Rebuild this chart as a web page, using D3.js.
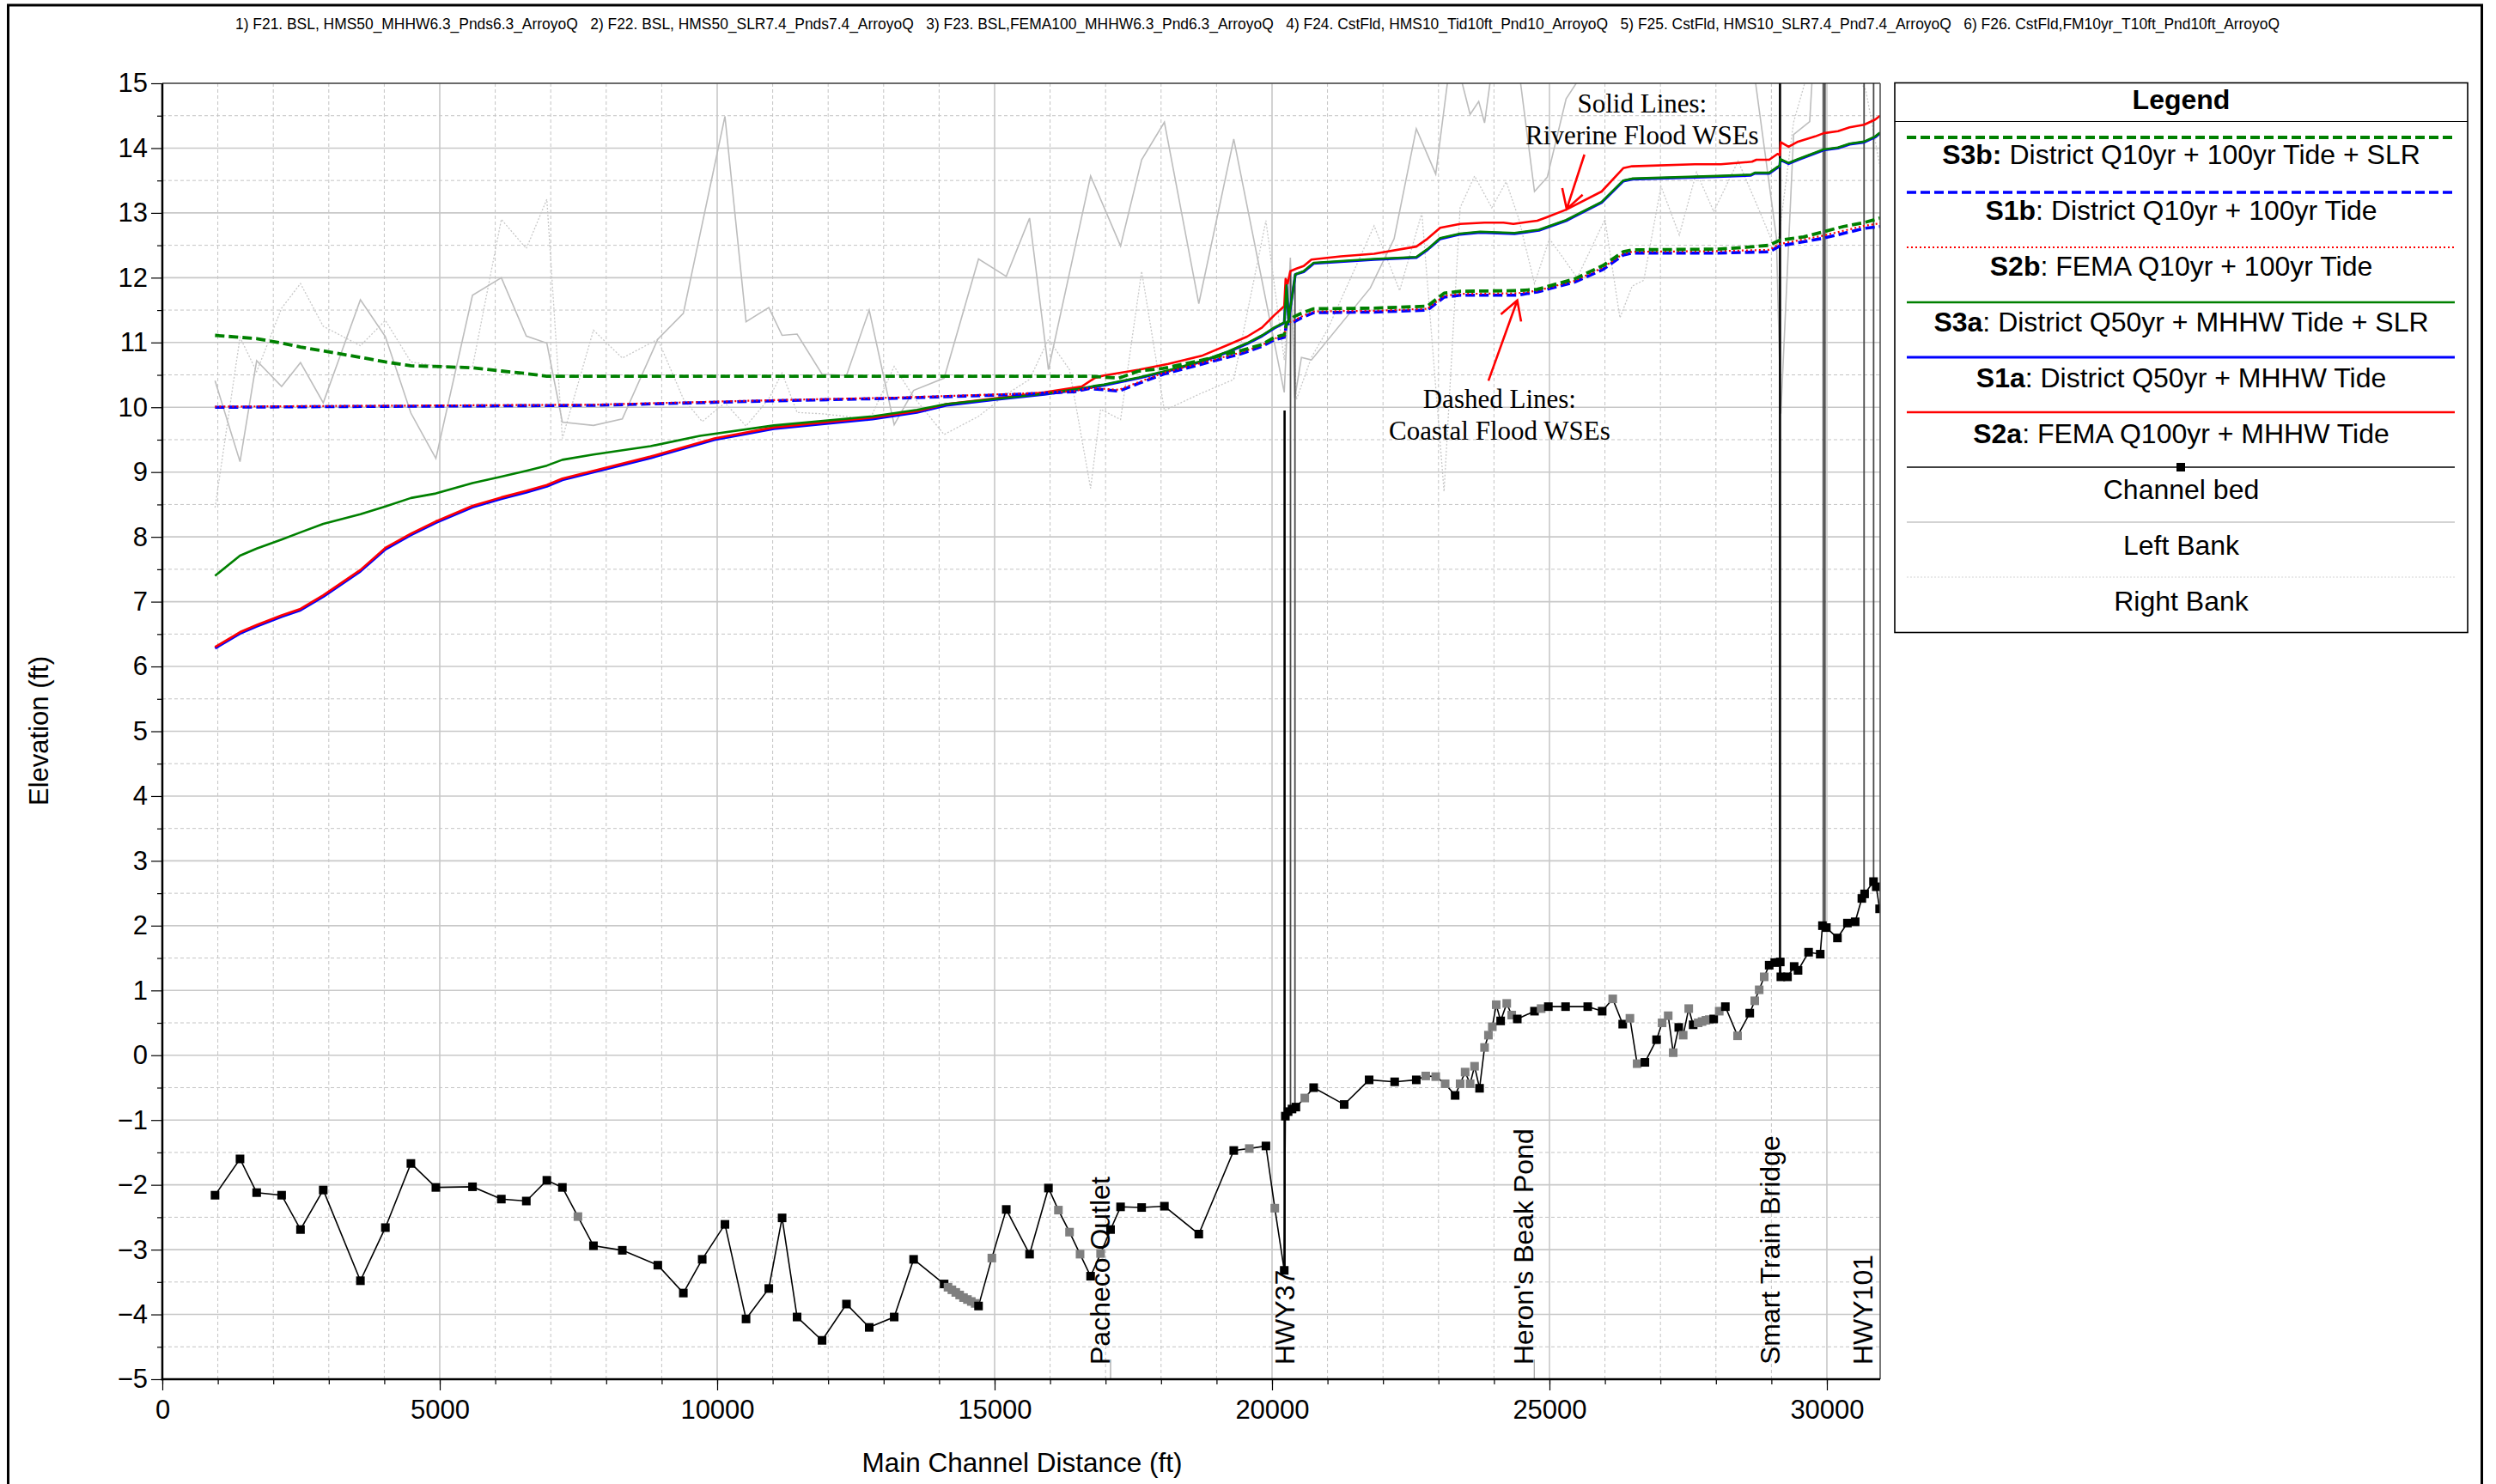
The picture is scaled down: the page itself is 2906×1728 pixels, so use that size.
<!DOCTYPE html>
<html>
<head>
<meta charset="utf-8">
<script src="https://cdn.jsdelivr.net/npm/d3@7"></script>
<style>
  html, body { margin: 0; padding: 0; background: #ffffff; }
  svg { display: block; }
</style>
</head>
<body>
<svg id="chart" width="2906" height="1728"></svg>
<script>
// ---------------- data ----------------
const planTitles = [
  "1) F21. BSL, HMS50_MHHW6.3_Pnds6.3_ArroyoQ",
  "2) F22. BSL, HMS50_SLR7.4_Pnds7.4_ArroyoQ",
  "3) F23. BSL,FEMA100_MHHW6.3_Pnd6.3_ArroyoQ",
  "4) F24. CstFld, HMS10_Tid10ft_Pnd10_ArroyoQ",
  "5) F25. CstFld, HMS10_SLR7.4_Pnd7.4_ArroyoQ",
  "6) F26. CstFld,FM10yr_T10ft_Pnd10ft_ArroyoQ"
];

const xMajorTicks = [0, 5000, 10000, 15000, 20000, 25000, 30000];
const xMinorTicks = d3.range(0, 31000, 1000);
const yMajorTicks = [-5, -4, -3, -2, -1, 0, 1, 2, 3, 4, 5, 6, 7, 8, 9, 10, 11, 12, 13, 14, 15];
const yMinorTicks = [-4.5, -3.5, -2.5, -1.5, -0.5, 0.5, 1.5, 2.5, 3.5, 4.5, 5.5, 6.5, 7.5, 8.5, 9.5, 10.5, 11.5, 12.5, 13.5, 14.5];

// water surface profiles: [main channel station (ft), elevation (ft)]
const s3b = [[950,11.11],[1400,11.08],[1700,11.06],[2150,10.99],[2490,10.93],[2900,10.87],[3570,10.77],[4020,10.70],[4480,10.64],[4930,10.63],[5590,10.61],[6110,10.56],[6560,10.52],[6930,10.48],[7770,10.48],[12000,10.48],[16700,10.48],[17240,10.45],[17600,10.56],[18040,10.60],[18750,10.73],[19460,10.88],[19820,10.97],[20040,11.08],[20220,11.12],[20260,11.30],[20400,11.40],[20530,11.45],[20750,11.52],[21840,11.53],[22800,11.56],[23100,11.76],[23390,11.79],[24420,11.80],[24780,11.82],[25450,11.98],[25970,12.19],[26330,12.40],[26490,12.43],[28030,12.44],[28550,12.47],[28960,12.50],[29150,12.58],[29580,12.63],[29940,12.71],[30300,12.79],[30670,12.85],[30960,12.92]];
const s1b = [[950,10.00],[3000,10.01],[7770,10.03],[11020,10.10],[13240,10.14],[15460,10.20],[16440,10.24],[16700,10.29],[17240,10.25],[17600,10.37],[18040,10.51],[18750,10.67],[19460,10.83],[19820,10.94],[20040,11.04],[20220,11.08],[20260,11.28],[20400,11.32],[20530,11.38],[20750,11.46],[21840,11.47],[22800,11.50],[23100,11.70],[23390,11.73],[24420,11.73],[24780,11.78],[25450,11.93],[25970,12.13],[26330,12.35],[26490,12.38],[28030,12.38],[28960,12.40],[29150,12.49],[29940,12.61],[30670,12.76],[30960,12.79]];
const s2b = [[950,10.01],[3000,10.02],[7770,10.04],[11020,10.11],[13240,10.15],[15460,10.21],[16440,10.25],[16700,10.30],[17240,10.27],[17600,10.39],[18040,10.53],[18750,10.69],[19460,10.85],[19820,10.96],[20040,11.06],[20220,11.10],[20260,11.30],[20400,11.34],[20530,11.40],[20750,11.48],[21840,11.49],[22800,11.52],[23100,11.72],[23390,11.75],[24420,11.76],[24780,11.80],[25450,11.95],[25970,12.16],[26330,12.37],[26490,12.40],[28030,12.41],[28960,12.43],[29150,12.52],[29940,12.65],[30670,12.80],[30960,12.84]];
const s3a = [[950,7.40],[1400,7.71],[1700,7.82],[2150,7.96],[2490,8.07],[2900,8.20],[3570,8.35],[4020,8.47],[4480,8.60],[4930,8.67],[5590,8.83],[6110,8.93],[6560,9.02],[6930,9.10],[7210,9.19],[7770,9.27],[8800,9.40],[9690,9.56],[11020,9.72],[12800,9.86],[13600,9.96],[14130,10.05],[15020,10.13],[15900,10.21],[16570,10.29],[16800,10.33],[16970,10.35],[17600,10.46],[18130,10.57],[18750,10.72],[19200,10.86],[19550,10.99],[19820,11.11],[20040,11.23],[20220,11.31],[20260,11.88],[20300,11.36],[20420,12.05],[20570,12.10],[20750,12.23],[21840,12.29],[22600,12.32],[22800,12.44],[23030,12.61],[23390,12.68],[23750,12.71],[24370,12.69],[24810,12.74],[25300,12.89],[25940,13.17],[26330,13.50],[26490,13.53],[28030,13.57],[28630,13.59],[28700,13.62],[28960,13.62],[29110,13.71],[29150,13.73],[29160,13.83],[29310,13.77],[29480,13.83],[29940,13.98],[30200,14.01],[30410,14.07],[30670,14.10],[30870,14.18],[30960,14.24]];
const s1a = [[950,6.28],[1400,6.51],[1700,6.62],[2150,6.77],[2490,6.87],[2900,7.08],[3570,7.47],[4020,7.81],[4480,8.03],[4930,8.22],[5590,8.46],[6110,8.59],[6560,8.69],[6930,8.78],[7210,8.88],[7770,9.00],[8800,9.22],[9950,9.50],[11020,9.67],[12800,9.82],[13600,9.92],[14130,10.03],[15020,10.12],[15900,10.20],[16570,10.28],[16800,10.32],[16970,10.34],[17600,10.45],[18130,10.56],[18750,10.71],[19200,10.85],[19550,10.98],[19820,11.10],[20040,11.22],[20220,11.30],[20260,11.90],[20300,11.35],[20420,12.05],[20570,12.09],[20750,12.22],[21840,12.28],[22600,12.31],[22800,12.43],[23030,12.60],[23390,12.67],[23750,12.70],[24370,12.68],[24810,12.73],[25300,12.88],[25940,13.16],[26330,13.49],[26490,13.52],[28030,13.56],[28630,13.58],[28700,13.61],[28960,13.61],[29110,13.70],[29150,13.72],[29160,13.82],[29310,13.76],[29480,13.82],[29940,13.97],[30200,14.00],[30410,14.06],[30670,14.09],[30870,14.17],[30960,14.23]];
const s2a = [[950,6.30],[1400,6.53],[1700,6.64],[2150,6.79],[2490,6.89],[2900,7.10],[3570,7.49],[4020,7.83],[4480,8.05],[4930,8.24],[5590,8.48],[6110,8.61],[6560,8.71],[6930,8.80],[7210,8.90],[7770,9.02],[8800,9.24],[9950,9.52],[11020,9.69],[12800,9.84],[13600,9.94],[14130,10.05],[15020,10.14],[15900,10.23],[16570,10.32],[16800,10.45],[16970,10.49],[17600,10.58],[18130,10.67],[18750,10.80],[19200,10.96],[19550,11.09],[19820,11.23],[20040,11.42],[20220,11.56],[20245,11.98],[20280,11.91],[20330,12.10],[20440,12.14],[20570,12.18],[20710,12.28],[21240,12.33],[21840,12.37],[22600,12.48],[22800,12.60],[23030,12.77],[23390,12.83],[23830,12.85],[24170,12.85],[24350,12.83],[24780,12.88],[24940,12.93],[25300,13.05],[25940,13.33],[26330,13.69],[26490,13.72],[27620,13.75],[28090,13.75],[28650,13.79],[28730,13.82],[28960,13.82],[29110,13.91],[29150,13.89],[29170,14.09],[29310,14.02],[29480,14.10],[29790,14.18],[29940,14.23],[30200,14.26],[30410,14.32],[30670,14.36],[30870,14.44],[30960,14.50]];

// channel bed: [station, elevation, interpolated section (1) or surveyed (0)]
const channelBed = [[950,-2.16,0],[1400,-1.60,0],[1700,-2.12,0],[2150,-2.16,0],[2490,-2.69,0],[2900,-2.08,0],[3570,-3.48,0],[4020,-2.66,0],[4480,-1.67,0],[4930,-2.04,0],[5590,-2.03,0],[6110,-2.22,0],[6560,-2.25,0],[6930,-1.93,0],[7210,-2.04,0],[7490,-2.49,1],[7770,-2.94,0],[8290,-3.01,0],[8930,-3.24,0],[9390,-3.67,0],[9730,-3.15,0],[10140,-2.61,0],[10520,-4.07,0],[10930,-3.60,0],[11170,-2.51,0],[11440,-4.04,0],[11890,-4.40,0],[12330,-3.84,0],[12740,-4.20,0],[13190,-4.04,0],[13540,-3.15,0],[14090,-3.53,0],[14160,-3.58,1],[14230,-3.62,1],[14300,-3.66,1],[14370,-3.70,1],[14440,-3.74,1],[14510,-3.77,1],[14580,-3.80,1],[14650,-3.83,1],[14710,-3.87,0],[14950,-3.13,1],[15210,-2.38,0],[15630,-3.07,0],[15970,-2.05,0],[16150,-2.39,1],[16350,-2.73,1],[16540,-3.07,1],[16730,-3.41,0],[16910,-3.06,1],[17090,-2.69,0],[17270,-2.34,0],[17650,-2.35,0],[18060,-2.33,0],[18680,-2.76,0],[19310,-1.47,0],[19590,-1.44,1],[19890,-1.40,0],[20050,-2.36,1],[20220,-3.32,0],[20240,-0.94,0],[20290,-0.87,0],[20360,-0.83,0],[20430,-0.80,0],[20590,-0.66,1],[20750,-0.50,0],[21300,-0.76,0],[21750,-0.38,0],[22210,-0.41,0],[22600,-0.38,0],[22770,-0.32,1],[22950,-0.33,1],[23120,-0.44,1],[23300,-0.62,0],[23390,-0.44,1],[23480,-0.26,1],[23570,-0.44,1],[23650,-0.17,1],[23740,-0.51,0],[23830,0.12,1],[23900,0.31,1],[23970,0.44,1],[24040,0.78,1],[24120,0.53,0],[24230,0.80,1],[24320,0.62,1],[24420,0.56,0],[24730,0.68,0],[24850,0.72,1],[24980,0.75,0],[25290,0.75,0],[25690,0.75,0],[25950,0.68,0],[26140,0.87,1],[26320,0.48,0],[26450,0.57,1],[26580,-0.13,1],[26720,-0.11,0],[26930,0.24,0],[27030,0.50,1],[27140,0.61,1],[27230,0.04,1],[27330,0.43,0],[27410,0.31,1],[27510,0.72,1],[27590,0.47,0],[27680,0.50,1],[27750,0.52,1],[27820,0.54,1],[27880,0.55,1],[27960,0.56,0],[28060,0.68,1],[28170,0.75,0],[28390,0.30,1],[28610,0.65,0],[28700,0.84,1],[28780,1.01,1],[28870,1.21,1],[28960,1.39,0],[29060,1.43,0],[29160,1.44,0],[29170,1.21,0],[29290,1.21,0],[29410,1.37,0],[29480,1.31,0],[29670,1.59,0],[29880,1.56,0],[29920,2.00,0],[29990,1.97,0],[30190,1.81,0],[30370,2.04,0],[30510,2.06,0],[30630,2.42,0],[30680,2.49,0],[30840,2.68,0],[30890,2.60,0],[30950,2.26,0]];

// bank stations
const leftBank = [[950,10.41],[1400,9.16],[1700,10.72],[2150,10.32],[2490,10.69],[2900,10.07],[3570,11.66],[4020,11.09],[4480,9.91],[4930,9.21],[5590,11.73],[6110,12.00],[6560,11.10],[6930,10.99],[7210,9.77],[7770,9.72],[8290,9.82],[8930,11.05],[9390,11.45],[10140,14.49],[10520,11.32],[10930,11.54],[11170,11.11],[11440,11.13],[11890,10.51],[12330,10.49],[12740,11.50],[13190,9.73],[13540,10.26],[14090,10.45],[14710,12.29],[15210,12.02],[15630,12.92],[15970,10.58],[16730,13.57],[17270,12.49],[17650,13.82],[18060,14.40],[18680,11.60],[19310,14.14],[20220,10.23],[20330,12.31],[20410,10.14],[20530,10.77],[20710,10.73],[21770,11.84],[22200,12.6],[22600,14.3],[22950,13.6],[23250,15.6],[23570,14.52],[23725,14.72],[23830,14.39],[23960,15.2],[24450,15.2],[24730,13.33],[24960,13.55],[25300,14.76],[25710,15.3],[26500,15.8],[27500,15.6],[28700,15.1],[29090,12.62],[29170,9.9],[29400,14.21],[29690,14.41],[29750,15.3],[30300,15.6],[30960,15.4]];
const rightBank = [[950,8.45],[1400,11.08],[1700,10.55],[2150,11.53],[2490,11.91],[2900,11.25],[3570,10.95],[4020,11.34],[4480,10.70],[4930,10.64],[5590,10.62],[6110,12.90],[6560,12.45],[6930,13.21],[7210,9.52],[7770,11.19],[8290,10.76],[8930,11.05],[9390,10.13],[9730,9.78],[10140,10.07],[10520,9.71],[10930,10.13],[11170,10.53],[11440,9.92],[11890,9.90],[12330,9.86],[12740,9.79],[13190,10.63],[13540,10.16],[14090,9.58],[14710,9.86],[15210,10.20],[15630,10.43],[15970,11.05],[16350,10.58],[16730,8.75],[16910,9.97],[17270,9.81],[17650,12.10],[18060,9.95],[18680,10.20],[19310,10.43],[19890,12.88],[20220,10.73],[20330,12.25],[20440,10.12],[20710,10.77],[21000,11.2],[21840,12.8],[22300,11.8],[22700,13.0],[23100,8.7],[23390,13.08],[23650,13.57],[23960,13.08],[24220,13.48],[24450,12.9],[24730,11.91],[25000,12.6],[25500,12.0],[26000,12.9],[26270,11.38],[26490,11.87],[26700,11.96],[27010,13.41],[27340,12.66],[27650,13.63],[27960,13.02],[28400,13.8],[28800,13.0],[29090,12.4],[29160,12.8],[29400,14.4],[29700,15.3],[30200,15.5],[30700,14.9],[30960,13.7]];

// bridges / culverts drawn as vertical lines: station, bottom elev, top elev
const structStation = [20226, 20333, 20413, 29155, 29935, 29965, 30670, 30842];
const structBottom  = [-3.32, -0.87, -0.80, 1.21, 2.00, 1.97, 2.45, 2.68];
const structTop     = [9.95, 12.10, 12.05, 15, 15, 15, 15, 15];
const structMain    = [1, 0, 0, 1, 0, 0, 0, 0];

// named locations along the channel
const siteNames = ["Pacheco Outlet", "HWY37", "Heron's Beak Pond", "Smart Train Bridge", "HWY101"];
const siteStations = [17090, 20413, 24726, 29170, 30842];
const siteTickStations = [17090, 24726];

const legendKeys  = ["S3b:", "S1b", "S2b", "S3a", "S1a", "S2a", "", "", ""];
const legendTexts = [" District Q10yr + 100yr Tide + SLR", ": District Q10yr + 100yr Tide", ": FEMA Q10yr + 100yr Tide",
                     ": District Q50yr + MHHW Tide + SLR", ": District Q50yr + MHHW Tide", ": FEMA Q100yr + MHHW Tide",
                     "Channel bed", "Left Bank", "Right Bank"];

// ---------------- drawing ----------------
const FONT = "'Liberation Sans', Arial, Helvetica, sans-serif";
const SERIF = "'Liberation Serif', 'Times New Roman', serif";
const svg = d3.select("#chart");

const x = d3.scaleLinear().domain([0, 30960]).range([189, 2189]);
const y = d3.scaleLinear().domain([-5, 15]).range([1606, 97]);
const [X0, X1] = x.range();
const [Y0, Y1] = y.range();

svg.append("rect").attr("width", 2906).attr("height", 1728).attr("fill", "#fff");

// outer frame
svg.append("rect").attr("x", 9.5).attr("y", 6).attr("width", 2880).attr("height", 1760)
  .attr("fill", "none").attr("stroke", "#000").attr("stroke-width", 3);

// plan list across the top
svg.append("text")
  .attr("x", 274).attr("y", 34)
  .attr("font-family", FONT).attr("font-size", 18)
  .attr("textLength", 2380).attr("lengthAdjust", "spacingAndGlyphs")
  .style("white-space", "pre")
  .text(planTitles.join("\u00a0\u00a0\u00a0"));

// grid
const grid = svg.append("g");
grid.selectAll(".gyMinor").data(yMinorTicks).join("line")
  .attr("x1", X0).attr("x2", X1).attr("y1", d => y(d)).attr("y2", d => y(d))
  .attr("stroke", "#c4c4c4").attr("stroke-width", 1).attr("stroke-dasharray", "4,3");
grid.selectAll(".gxMinor").data(xMinorTicks.filter(v => v % 5000 !== 0 && v > 0)).join("line")
  .attr("x1", d => x(d)).attr("x2", d => x(d)).attr("y1", Y0).attr("y2", Y1)
  .attr("stroke", "#c4c4c4").attr("stroke-width", 1).attr("stroke-dasharray", "4,3");
grid.selectAll(".gyMajor").data(yMajorTicks).join("line")
  .attr("x1", X0).attr("x2", X1).attr("y1", d => y(d)).attr("y2", d => y(d))
  .attr("stroke", "#c8c8c8").attr("stroke-width", 1.6);
grid.selectAll(".gxMajor").data(xMajorTicks.filter(v => v > 0)).join("line")
  .attr("x1", d => x(d)).attr("x2", d => x(d)).attr("y1", Y0).attr("y2", Y1)
  .attr("stroke", "#c8c8c8").attr("stroke-width", 1.6);

svg.append("clipPath").attr("id", "plotClip")
  .append("rect").attr("x", X0).attr("y", Y1).attr("width", X1 - X0).attr("height", Y0 - Y1);

const plot = svg.append("g").attr("clip-path", "url(#plotClip)");
const line = d3.line().x(d => x(d[0])).y(d => y(d[1]));

// banks
plot.append("path").datum(rightBank).attr("d", line)
  .attr("fill", "none").attr("stroke", "#c8c8c8").attr("stroke-width", 1.3).attr("stroke-dasharray", "2,2");
plot.append("path").datum(leftBank).attr("d", line)
  .attr("fill", "none").attr("stroke", "#bdbdbd").attr("stroke-width", 1.6);

// location ticks along the bottom
plot.selectAll(".siteTick").data(siteTickStations).join("line")
  .attr("x1", d => x(d)).attr("x2", d => x(d)).attr("y1", Y0).attr("y2", Y0 - 23)
  .attr("stroke", "#a0a0a0").attr("stroke-width", 1.2);

// structures
plot.selectAll(".struct").data(structStation).join("line")
  .attr("x1", d => x(d)).attr("x2", d => x(d))
  .attr("y1", (d, i) => y(structBottom[i])).attr("y2", (d, i) => y(structTop[i]))
  .attr("stroke", (d, i) => structMain[i] ? "#000" : "#4a4a4a")
  .attr("stroke-width", (d, i) => structMain[i] ? 2.6 : 1.8);

// channel bed
plot.append("path").datum(channelBed).attr("d", line)
  .attr("fill", "none").attr("stroke", "#000").attr("stroke-width", 1.6);
plot.selectAll(".bedPt").data(channelBed).join("rect")
  .attr("x", d => x(d[0]) - 5).attr("y", d => y(d[1]) - 5)
  .attr("width", 10).attr("height", 10)
  .attr("fill", d => d[2] ? "#7f7f7f" : "#000");

// water surface profiles
const styles = {
  s1a: { stroke: "#0000ff", width: 3.2, dash: null },
  s2a: { stroke: "#ff0000", width: 2.6, dash: null },
  s3a: { stroke: "#008000", width: 2.6, dash: null },
  s1b: { stroke: "#0000ff", width: 3.6, dash: "11,5" },
  s2b: { stroke: "#ff0000", width: 2.2, dash: "2,3" },
  s3b: { stroke: "#008000", width: 3.8, dash: "11,5" }
};
const drawOrder = [["s1a", s1a], ["s2a", s2a], ["s3a", s3a], ["s1b", s1b], ["s2b", s2b], ["s3b", s3b]];
drawOrder.forEach(([k, data]) => {
  const st = styles[k];
  plot.append("path").datum(data).attr("d", line)
    .attr("fill", "none").attr("stroke", st.stroke).attr("stroke-width", st.width)
    .attr("stroke-linejoin", "round")
    .attr("stroke-dasharray", st.dash);
});

// annotations
function arrow(g, tail, tip) {
  const tx = x(tip[0]), ty = y(tip[1]);
  const sx = x(tail[0]), sy = y(tail[1]);
  const ang = Math.atan2(sy - ty, sx - tx);
  const L = 25, a = Math.PI / 6;
  g.append("path")
    .attr("d", `M${sx},${sy}L${tx},${ty}M${tx + L * Math.cos(ang - a)},${ty + L * Math.sin(ang - a)}L${tx},${ty}L${tx + L * Math.cos(ang + a)},${ty + L * Math.sin(ang + a)}`)
    .attr("fill", "none").attr("stroke", "#ff0000").attr("stroke-width", 2.6);
}
const ann = svg.append("g");
arrow(ann, [25630, 13.90], [25310, 13.06]);
arrow(ann, [23900, 10.41], [24420, 11.65]);
ann.append("text").attr("x", x(26670)).attr("y", y(14.55)).attr("text-anchor", "middle")
  .attr("font-family", SERIF).attr("font-size", 31).text("Solid Lines:");
ann.append("text").attr("x", x(26670)).attr("y", y(14.06)).attr("text-anchor", "middle")
  .attr("font-family", SERIF).attr("font-size", 31).text("Riverine Flood WSEs");
ann.append("text").attr("x", x(24100)).attr("y", y(9.99)).attr("text-anchor", "middle")
  .attr("font-family", SERIF).attr("font-size", 31).text("Dashed Lines:");
ann.append("text").attr("x", x(24100)).attr("y", y(9.50)).attr("text-anchor", "middle")
  .attr("font-family", SERIF).attr("font-size", 31).text("Coastal Flood WSEs");

// location names
svg.selectAll(".site").data(siteNames).join("text")
  .attr("transform", (d, i) => `translate(${x(siteStations[i]) - 1},${Y0 - 17}) rotate(-90)`)
  .attr("font-family", FONT).attr("font-size", 32).attr("fill", "#000")
  .text(d => d);

// plot frame
svg.append("line").attr("x1", X0).attr("x2", X1).attr("y1", Y1).attr("y2", Y1)
  .attr("stroke", "#000").attr("stroke-width", 1.2);
svg.append("line").attr("x1", X1).attr("x2", X1).attr("y1", Y1).attr("y2", Y0)
  .attr("stroke", "#555").attr("stroke-width", 1.6);

// axes
svg.append("g").attr("transform", `translate(${X0},0)`)
  .call(d3.axisLeft(y).tickValues(yMajorTicks).tickSize(13).tickPadding(4).tickFormat(d3.format("d")));
svg.append("g").attr("transform", `translate(${X0},0)`)
  .call(d3.axisLeft(y).tickValues(yMinorTicks).tickSize(6).tickFormat(""));
svg.append("g").attr("transform", `translate(0,${Y0})`)
  .call(d3.axisBottom(x).tickValues(xMajorTicks).tickSize(13).tickPadding(11).tickFormat(d3.format("d")));
svg.append("g").attr("transform", `translate(0,${Y0})`)
  .call(d3.axisBottom(x).tickValues(xMinorTicks).tickSize(6).tickFormat(""));
svg.selectAll(".domain").remove();
svg.selectAll(".tick line").attr("stroke", "#000").attr("stroke-width", 1.2);
svg.selectAll(".tick text").attr("font-family", FONT).attr("font-size", 31).attr("fill", "#000");

svg.append("line").attr("x1", X0).attr("x2", X0).attr("y1", Y1).attr("y2", Y0 + 1.25)
  .attr("stroke", "#000").attr("stroke-width", 2.5);
svg.append("line").attr("x1", X0 - 1.25).attr("x2", X1).attr("y1", Y0).attr("y2", Y0)
  .attr("stroke", "#000").attr("stroke-width", 2.5);

svg.append("text").attr("transform", "translate(56,851) rotate(-90)").attr("text-anchor", "middle")
  .attr("font-family", FONT).attr("font-size", 31).text("Elevation (ft)");
svg.append("text").attr("x", 1190).attr("y", 1714).attr("text-anchor", "middle")
  .attr("font-family", FONT).attr("font-size", 31.5).text("Main Channel Distance (ft)");

// legend
const LG = { x: 2206, y: 96.5, w: 667, h: 640, head: 45, row: 64, first: 63.5, textFirst: 94, textRow: 65 };
const lg = svg.append("g");
lg.append("rect").attr("x", LG.x).attr("y", LG.y).attr("width", LG.w).attr("height", LG.h)
  .attr("fill", "#fff").attr("stroke", "#000").attr("stroke-width", 1.6);
lg.append("line").attr("x1", LG.x).attr("x2", LG.x + LG.w).attr("y1", LG.y + LG.head).attr("y2", LG.y + LG.head)
  .attr("stroke", "#000").attr("stroke-width", 1.2);
lg.append("text").attr("x", LG.x + LG.w / 2).attr("y", LG.y + 30).attr("text-anchor", "middle")
  .attr("font-family", FONT).attr("font-size", 32).attr("font-weight", "bold").text("Legend");

const legendStyle = [styles.s3b, styles.s1b, styles.s2b, styles.s3a, styles.s1a, styles.s2a,
  { stroke: "#000", width: 1.6, dash: null, marker: true },
  { stroke: "#c4c4c4", width: 1.6, dash: null },
  { stroke: "#d4d4d4", width: 1.2, dash: "2,2" }];
legendTexts.forEach((t, i) => {
  const ly = LG.y + LG.first + i * LG.row;
  const st = legendStyle[i];
  lg.append("line").attr("x1", LG.x + 14).attr("x2", LG.x + LG.w - 15).attr("y1", ly).attr("y2", ly)
    .attr("stroke", st.stroke).attr("stroke-width", st.width).attr("stroke-dasharray", st.dash);
  if (st.marker) {
    lg.append("rect").attr("x", LG.x + 333 - 5).attr("y", ly - 5).attr("width", 10).attr("height", 10).attr("fill", "#000");
  }
  const tx = lg.append("text").attr("x", LG.x + LG.w / 2).attr("y", LG.y + LG.textFirst + i * LG.textRow)
    .attr("text-anchor", "middle").attr("font-family", FONT).attr("font-size", 32);
  if (legendKeys[i]) tx.append("tspan").attr("font-weight", "bold").text(legendKeys[i]);
  tx.append("tspan").text(t);
});
</script>
</body>
</html>
